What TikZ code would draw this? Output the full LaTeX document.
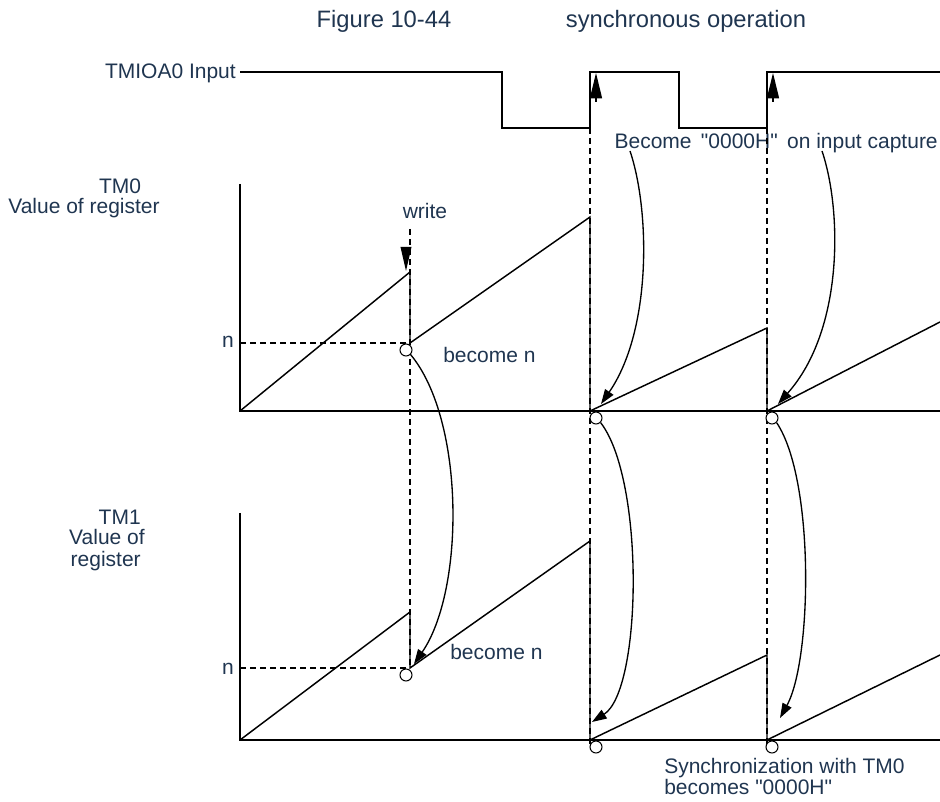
\documentclass[tikz,border=0pt]{standalone}
\usepackage{fontspec}
\setmainfont{Liberation Sans}[Ligatures=TeXOff]
\usetikzlibrary{arrows.meta}
\definecolor{labelblue}{HTML}{1F3550}

\begin{document}
\begin{tikzpicture}[x=0.75pt,y=-0.75pt,
    every node/.style={font=\fontsize{15.75}{16.5}\selectfont, text=labelblue, inner sep=0pt},
    sig/.style={line width=1.1pt, black},
    guide/.style={line width=0.9pt, dash pattern=on 4.5pt off 3pt},
    ring/.style={circle, draw=black, line width=0.8pt, fill=white, minimum size=9pt},
    curvearrow/.style={line width=1pt, -{Triangle[length=11pt,width=7.5pt]}},
    edgetip/.style={line width=1pt, -{Triangle[length=19pt,width=9pt]}}]
    \useasboundingbox (0,0) rectangle (940,802);

    % Title
    \node[anchor=base, font=\fontsize{17.8}{19}\selectfont] (fig) at (384,28) {Figure 10-44};
    \node[anchor=base, font=\fontsize{17.8}{19}\selectfont] (title) at (686,28) {synchronous operation};

    % Input capture signal
    \node[anchor=base east] (inlbl) at (236,79) {TMIOA0 Input};
    \draw[sig] (240,72) -- (502,72) -- (502,128) -- (590,128) -- (590,72)
        -- (679,72) -- (679,128) -- (767,128) -- (767,72) -- (940,72);
    \coordinate (e1) at (596,73);
    \coordinate (e2) at (773,73);
    \draw[edgetip] (596,102) -- (e1);
    \draw[edgetip] (773,102) -- (e2);
    \node[anchor=base east] (cap) at (938,149) {Become \,"0000H"\, on input capture};

    % Dashed guides
    \draw[guide] (410,229) -- (410,668);
    \draw[guide] (590,128) -- (590,745);
    \draw[guide] (767,128) -- (767,745);
    \draw[guide] (240,343) -- (410,343);
    \draw[guide] (240,668) -- (410,668);

    % TM0 register
    \node[anchor=base] (tm0) at (120,194) {TM0};
    \node[anchor=base] (tm0v) at (84,214) {Value of register};
    \draw[sig] (240,184) -- (240,411) -- (940,411);
    \draw[sig] (240,411) -- (410,272) -- (410,343) -- (590,217) -- (590,411)
        -- (767,328) -- (767,411) -- (940,322);
    \node[anchor=base] (wr) at (425,219) {write};
    \coordinate (w0) at (406,271);
    \draw[-{Triangle[length=18pt,width=8pt]}, line width=1pt] (406,247) -- (w0);
    \node[anchor=base] (n0) at (228,348) {n};
    \node[anchor=base west] (bn0) at (443,363) {become n};

    % TM1 register
    \node[anchor=base east] (tm1) at (141,524) {TM1};
    \node[anchor=base east] (tm1v) at (145,545) {Value of};
    \node[anchor=base east] (tm1r) at (141,566) {register};
    \draw[sig] (240,513) -- (240,740) -- (940,740);
    \draw[sig] (240,740) -- (410,612) -- (410,668) -- (590,541) -- (590,740)
        -- (767,655) -- (767,740) -- (940,655);
    \node[anchor=base] (n1) at (228,674) {n};
    \node[anchor=base west] (bn1) at (450,659) {become n};

    % Reset points
    \node[ring] (c0) at (406,350) {};
    \node[ring] (c1) at (596,418) {};
    \node[ring] (c2) at (772,418) {};
    \node[ring] (d0) at (406,675) {};
    \node[ring] (d1) at (596,747) {};
    \node[ring] (d2) at (772,747) {};

    % Curved arrows
    \coordinate (s1) at (630,151);
    \coordinate (s2) at (822,151);
    \coordinate (t1) at (601,404);
    \coordinate (t2) at (778,404);
    \coordinate (u0) at (414,664);
    \coordinate (u1) at (592,722);
    \coordinate (u2) at (780,718);
    \draw[curvearrow] (s1) .. controls (650,210) and (652,330) .. (t1);
    \draw[curvearrow] (s2) .. controls (842,210) and (844,330) .. (t2);
    \draw[curvearrow] (c0.south east) .. controls (465,420) and (465,590) .. (u0);
    \draw[curvearrow] (c1.south east) .. controls (645,480) and (642,690) .. (u1);
    \draw[curvearrow] (c2.south east) .. controls (815,480) and (812,660) .. (u2);

    \node[anchor=base west] (sync) at (664,773) {Synchronization with TM0};
    \node[anchor=base west] (sync2) at (664,794) {becomes "0000H"};
\end{tikzpicture}
\end{document}
